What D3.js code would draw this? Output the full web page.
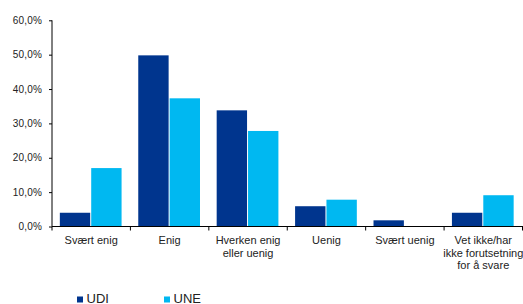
<!DOCTYPE html>
<html>
<head>
<meta charset="utf-8">
<script src="https://cdn.jsdelivr.net/npm/d3@7"></script>
<style>
  html, body { margin: 0; padding: 0; background: #fff; }
  svg { display: block; font-family: "Liberation Sans", Arial, sans-serif; }
</style>
</head>
<body>
<svg id="chart" width="523" height="304"></svg>
<script>
const categories = ["Svært enig", "Enig", "Hverken enig\neller uenig", "Uenig", "Svært uenig", "Vet ikke/har\nikke forutsetning\nfor å svare"];
const seriesNames = ["UDI", "UNE"];
const udiValues = [4.0, 49.8, 33.8, 5.9, 1.8, 4.0];
const uneValues = [17.0, 37.3, 27.8, 7.8, 0.0, 9.1];
const yTicks = [0, 10, 20, 30, 40, 50, 60];
const colors = { UDI: "#00358E", UNE: "#00B8F1" };

const svg = d3.select("#chart");
const y = d3.scaleLinear().domain([0, 60]).range([226.5, 20.3]);
const x = d3.scaleBand().domain(categories).range([52, 522.5]).paddingInner(0.2).paddingOuter(0.1);
const xs = d3.scaleBand().domain(seriesNames).range([0, x.bandwidth()]);
const fmt = v => d3.format(".1f")(v).replace(".", ",") + "%";

const data = categories.map((c, i) => ({ cat: c, UDI: udiValues[i], UNE: uneValues[i] }));

// bars
const g = svg.append("g");
data.forEach(d => {
  seriesNames.forEach(s => {
    if (d[s] <= 0) return;
    g.append("rect")
      .attr("x", x(d.cat) + xs(s))
      .attr("y", y(d[s]))
      .attr("width", xs.bandwidth() - 1)
      .attr("height", y(0) - y(d[s]))
      .attr("fill", colors[s]);
  });
});

// y axis
const yAxis = d3.axisLeft(y).tickValues(yTicks).tickFormat(fmt).tickSize(3).tickPadding(7);
const ya = svg.append("g").attr("transform", "translate(52,0)").call(yAxis);
ya.select(".domain").attr("stroke", "#000").attr("d", `M0,${y(60)}V${y(0)}`);
ya.selectAll(".tick line").attr("stroke", "#000");
ya.selectAll(".tick text").attr("font-size", "10px").attr("fill", "#222")
  .attr("font-family", "'Liberation Sans', Arial, sans-serif").attr("letter-spacing", "0.2px");

// x axis line
svg.append("line").attr("x1", 52).attr("x2", 523).attr("y1", y(0)).attr("y2", y(0)).attr("stroke", "#000");
// x ticks at category boundaries
const boundaries = categories.map(c => x(c) - x.step() * x.paddingOuter()).concat([x.range()[1]]);
svg.selectAll(".xtick").data(boundaries).enter().append("line")
  .attr("x1", d => d).attr("x2", d => d)
  .attr("y1", y(0)).attr("y2", y(0) + 4).attr("stroke", "#000");

// x labels
categories.forEach(c => {
  const lines = c.split("\n");
  const t = svg.append("text")
    .attr("x", x(c) + x.bandwidth() / 2)
    .attr("y", 244)
    .attr("text-anchor", "middle")
    .attr("font-size", "11px")
    .attr("fill", "#222");
  lines.forEach((l, i) => {
    t.append("tspan").attr("x", x(c) + x.bandwidth() / 2).attr("dy", i === 0 ? 0 : 12.5).text(l);
  });
});

// legend
const legendX = [77, 164];
seriesNames.forEach((s, i) => {
  svg.append("rect").attr("x", legendX[i]).attr("y", 296.5).attr("width", 6).attr("height", 6).attr("fill", colors[s]);
  svg.append("text").attr("x", legendX[i] + 9.5).attr("y", 302.5)
    .attr("font-size", "13px").attr("fill", "#222").text(s);
});
</script>
</body>
</html>
